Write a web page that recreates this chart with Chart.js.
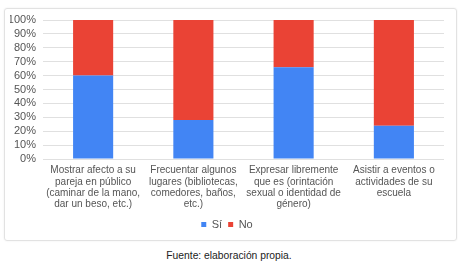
<!DOCTYPE html>
<html lang="es">
<head>
  <meta charset="UTF-8"/>
  <title>Sí / No</title>
  <script src="https://cdn.jsdelivr.net/npm/chart.js"></script>
  <style>
    html, body { margin:0; padding:0; background:#fff; }
    body { width:458px; height:264px; position:relative; overflow:hidden; font-family:'Liberation Sans', Arial, sans-serif; }
    .box { position:absolute; left:4px; top:8px; width:451px; height:231px; border:1px solid #e2e2e2; border-radius:3px; box-shadow:0 0 2px rgba(0,0,0,.08); }
    .wrap { position:absolute; left:0; top:0; width:458px; height:240px; }
    .source { position:absolute; left:0; width:458px; top:250px; text-align:center; font-size:10.3px; color:#222; }
  </style>
</head>
<body>
<div class="box"></div>
<div class="wrap"><canvas id="chart"></canvas></div>
<div class="source">Fuente: elaboración propia.</div>

<script>
  // data
  const categories = [
    ['Mostrar afecto a su', 'pareja en público', '(caminar de la mano,', 'dar un beso, etc.)'],
    ['Frecuentar algunos', 'lugares (bibliotecas,', 'comedores, baños,', 'etc.)'],
    ['Expresar libremente', 'que es (orintación', 'sexual o identidad de', 'género)'],
    ['Asistir a eventos o', 'actividades de su', 'escuela']
  ];
  const si = [60, 28, 66, 24];
  const no = [40, 72, 34, 76];
  const yTicks = [0, 10, 20, 30, 40, 50, 60, 70, 80, 90, 100];

  const grey = '#555';
  const family = "'Liberation Sans', Arial, sans-serif";

  new Chart(document.getElementById('chart'), {
    type:'bar',
    data:{
      labels: categories,
      datasets:[
        { label:'Sí', data:si, backgroundColor:'#4285F4', categoryPercentage:1, barPercentage:0.4 },
        { label:'No', data:no, backgroundColor:'#EA4335', categoryPercentage:1, barPercentage:0.4 }
      ]
    },
    options:{
      responsive:true,
      maintainAspectRatio:false,
      animation:false,
      layout:{ padding:{ left:10, right:14, top:20, bottom:0 } },
      plugins:{
        tooltip:{ enabled:false },
        legend:{
          position:'bottom',
          labels:{ boxWidth:5, boxHeight:5, color:grey, font:{ family, size:11 }, padding:6 }
        }
      },
      scales:{
        x:{
          stacked:true,
          grid:{ display:false, drawTicks:false },
          border:{ display:false },
          ticks:{ color:grey, font:{ family, size:10, lineHeight:1.13 }, maxRotation:0, autoSkip:false, padding:6 },
          afterFit: s => { s.height = 54; }
        },
        y:{
          stacked:true,
          min:0, max:100,
          afterBuildTicks: s => { s.ticks = yTicks.map(v => ({ value:v })); },
          grid:{ color:'#e0e0e0', drawTicks:false },
          border:{ display:false },
          ticks:{ color:grey, font:{ family, size:11 }, padding:7, autoSkip:false, callback: v => v + '%' },
          afterFit: s => { s.width = 33; }
        }
      }
    }
  });
</script>
</body>
</html>
